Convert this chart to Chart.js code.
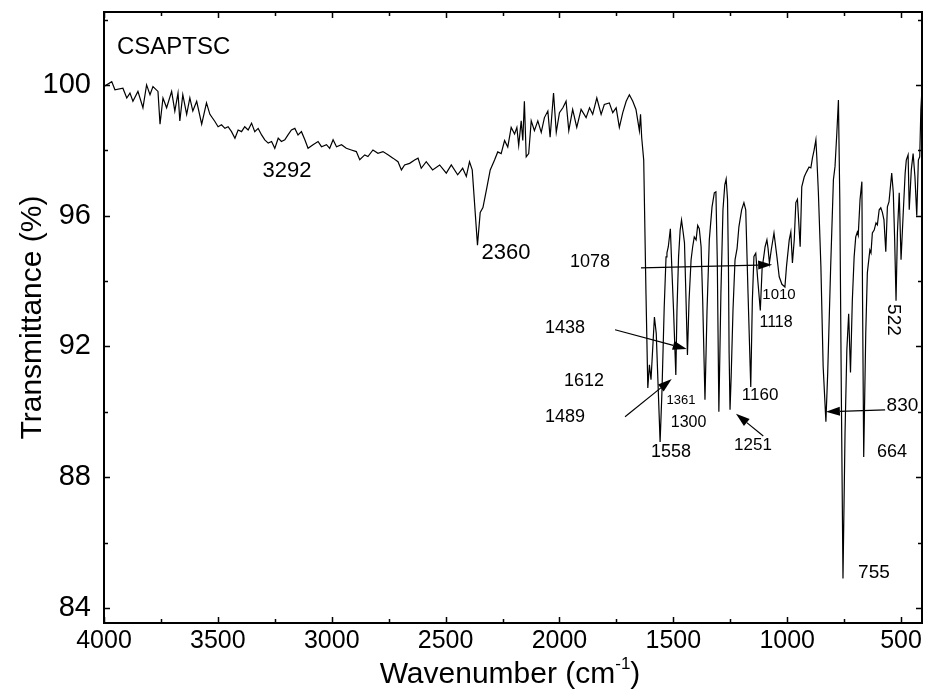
<!DOCTYPE html>
<html>
<head>
<meta charset="utf-8">
<title>CSAPTSC FT-IR</title>
<script src="https://cdn.jsdelivr.net/npm/chart.js@4.4.0/dist/chart.umd.min.js"></script>
<style>
  html, body { margin: 0; padding: 0; background: #fff; }
  #wrap { width: 925px; height: 691px; }
</style>
</head>
<body>
<div id="wrap"><canvas id="irChart" width="925" height="691"></canvas></div>
<script>
// --- Spectrum data (wavenumber in cm-1, transmittance in %) ---
const wavenumbers = [
    4000, 3966, 3952, 3917, 3900, 3886, 3873, 3851, 3829, 3813, 3798, 3785, 3763, 3754, 3741,
    3725, 3703, 3689, 3675, 3667, 3654, 3637, 3623, 3610, 3593, 3571, 3550, 3535, 3513,
    3499, 3484, 3469, 3455, 3440, 3425, 3411, 3396, 3382, 3367, 3352, 3338, 3323, 3308, 3294,
    3279, 3264, 3250, 3235, 3221, 3206, 3192, 3177, 3162, 3148, 3133, 3118, 3104, 3082, 3060,
    3045, 3023, 3009, 2994, 2979, 2957, 2936, 2914, 2892, 2877, 2855, 2841, 2819, 2797, 2775,
    2753, 2731, 2709, 2694, 2680, 2658, 2636, 2621,
    2607, 2585, 2557, 2526, 2497, 2475, 2447, 2425, 2409, 2395, 2383, 2360, 2348, 2336, 2319,
    2304, 2285, 2271, 2256, 2241, 2227, 2212, 2197, 2187, 2179, 2168, 2161, 2154, 2146, 2135,
    2124, 2110, 2095, 2080, 2066, 2051, 2041, 2026, 2014, 2000, 1985, 1971, 1959, 1942, 1924,
    1905, 1883, 1868, 1854, 1836, 1817, 1803, 1781, 1766, 1751, 1737, 1722, 1707, 1693, 1678,
    1664, 1649, 1644, 1639, 1630,
    1620, 1612, 1605, 1598, 1583, 1575, 1558, 1550, 1540, 1532, 1528, 1522, 1513, 1506, 1499,
    1489, 1484, 1477, 1470, 1464, 1457, 1451, 1445, 1438, 1431, 1422, 1415, 1408, 1400, 1393,
    1386, 1378, 1371, 1361, 1352, 1342, 1330, 1320, 1313, 1307, 1300, 1291, 1282, 1274, 1268,
    1262, 1258, 1255, 1251, 1246, 1238, 1229, 1220, 1212, 1200, 1190, 1182, 1172, 1160, 1153,
    1146, 1138, 1130, 1118, 1110, 1103, 1097, 1089, 1084, 1078, 1070, 1058, 1045, 1035, 1023,
    1010, 1003, 991, 984, 977, 969, 962, 955, 943, 936, 925, 915, 904, 896, 889,
    882, 874, 870, 863, 852, 842, 830, 822, 809, 797, 790, 782, 775, 769, 762,
    755, 746, 738, 730, 722, 714, 706, 699, 692, 688, 680, 672, 669, 664, 655,
    648, 637, 632, 626, 618, 610, 604, 596, 589, 582, 575, 567, 560, 553, 541,
    534, 528, 522, 516, 508, 500, 491, 482, 477, 469, 464, 455, 447, 439, 431,
    424, 418, 413, 408
];

const transmittance = [
    99.95, 100.1, 99.85, 99.9, 99.6, 99.75, 99.5, 99.8, 99.3, 100.0, 99.7, 99.95, 99.8, 98.8, 99.6,
    99.3, 99.8, 99.2, 99.75, 98.9, 99.7, 99.1, 99.6, 99.2, 99.5, 98.8, 99.45, 99.1, 98.88,
    98.72, 98.78, 98.67, 98.72, 98.57, 98.37, 98.62, 98.57, 98.72, 98.62, 98.83, 98.57, 98.67, 98.47, 98.32,
    98.22, 98.27, 98.06, 98.37, 98.27, 98.32, 98.47, 98.62, 98.67, 98.47, 98.57, 98.32, 98.06, 98.17, 98.27,
    98.11, 98.17, 98.06, 98.32, 98.11, 98.17, 98.06, 98.01, 97.96, 97.71, 97.86, 97.81, 98.01, 97.91, 97.96,
    97.86, 97.76, 97.65, 97.4, 97.55, 97.6, 97.7, 97.76,
    97.45, 97.65, 97.4, 97.55, 97.3, 97.55, 97.25, 97.45, 97.2, 97.65, 97.4, 95.1, 96.1, 96.25, 96.85,
    97.4, 97.7, 97.95, 97.9, 98.3, 98.1, 98.7, 98.5, 98.7, 98.15, 98.9, 98.3, 99.5, 97.8, 97.9,
    98.9, 98.6, 98.9, 98.55, 99.0, 99.2, 98.4, 99.75, 98.55, 99.15, 99.3, 99.5, 98.6, 99.25, 98.7,
    99.25, 99.0, 99.3, 99.1, 99.6, 99.1, 99.4, 99.45, 99.15, 99.3, 98.7, 99.15, 99.5, 99.7, 99.5,
    99.25, 98.6, 99.1, 98.4, 97.7,
    93.6, 90.73, 91.44, 90.98, 92.9, 92.4, 89.08, 90.6, 93.2, 94.74, 94.86, 95.05, 95.6, 94.3, 93.1,
    91.13, 93.1, 94.74, 95.56, 95.87, 95.5, 95.17, 93.64, 91.74, 93.4, 94.65, 95.05, 95.35, 95.26, 95.7,
    95.6, 95.05, 93.4, 90.37, 93.1, 95.26, 96.27, 96.7, 96.73, 94.65, 90.0, 93.64, 96.18, 96.94, 97.12,
    96.5, 94.5, 91.8, 90.06, 91.07, 93.1, 94.65, 95.0, 95.66, 96.18, 96.4, 96.18, 93.64, 90.76, 93.4,
    94.75, 94.85, 94.1, 93.1, 94.4, 94.74, 95.05, 95.26, 95.0, 94.55, 94.95, 95.47, 94.74, 94.13, 93.9,
    93.82, 94.45, 95.26, 95.5, 94.55, 95.26, 96.4, 96.5, 95.05, 96.88, 97.19, 97.34, 97.49, 97.46, 97.77,
    98.0, 98.32, 97.8, 96.7, 94.45, 91.38, 89.7, 91.2, 94.45, 97.1, 97.5, 98.53, 99.54, 96.5, 90.37,
    84.9, 89.35, 91.9, 93.0, 91.2, 93.4, 94.74, 95.35, 95.5, 95.4, 96.5, 97.04, 93.4, 88.62, 92.4,
    94.25, 94.95, 94.86, 95.47, 95.56, 95.78, 95.72, 96.18, 96.24, 96.1, 95.87, 94.9, 96.27, 96.42, 97.3,
    96.7, 95.26, 93.4, 95.47, 96.7, 94.65, 96.0, 97.3, 97.7, 97.86, 96.18, 97.4, 97.9, 97.19, 96.0,
    97.7, 97.8, 99.24, 99.9
];

const xTickValues = [4000, 3500, 3000, 2500, 2000, 1500, 1000, 500];
const yTickValues = [84, 88, 92, 96, 100];

const FONT = '"Liberation Sans", Arial, Helvetica, sans-serif';

// peak labels: text, anchor (wavenumber, %T), font size
const peakTags = [
    { text: '3292', at: [3196, 97.37], size: 22 },
    { text: '2360', at: [2235, 94.86], size: 22 },
    { text: '1078', at: [1866, 94.59], size: 18 },
    { text: '1438', at: [1976, 92.57], size: 18 },
    { text: '1612', at: [1892, 90.95], size: 18 },
    { text: '1489', at: [1976, 89.84], size: 18 },
    { text: '1361', at: [1466, 90.36], size: 13 },
    { text: '1300', at: [1433, 89.66], size: 16 },
    { text: '1558', at: [1510, 88.77], size: 18 },
    { text: '1251', at: [1150, 88.99], size: 17 },
    { text: '1160', at: [1119, 90.49], size: 17 },
    { text: '1118', at: [1049, 92.72], size: 16 },
    { text: '1010', at: [1036, 93.58], size: 15 },
    { text: '522',  at: [535, 92.81],  size: 19, rotate: true },
    { text: '830',  at: [494, 90.18],  size: 19 },
    { text: '664',  at: [540, 88.77],  size: 18 },
    { text: '755',  at: [619, 85.07],  size: 19 }
];

// arrows pointing at peaks: from -> tip, in (wavenumber, %T)
const peakArrows = [
    { from: [1642, 94.40], to: [1066, 94.50] },
    { from: [1756, 92.51], to: [1441, 91.92] },
    { from: [1712, 89.85], to: [1507, 91.00] },
    { from: [1105, 89.26], to: [1225, 89.94] },
    { from: [570, 90.06],  to: [830, 90.00] }
];

const spectrum = wavenumbers.map((wn, i) => ({ x: wn, y: transmittance[i] }));

// --- frame, inner tick marks and axis titles ---
const framePlugin = {
    id: 'frame',
    afterDraw(chart) {
        const { ctx, chartArea: a, scales } = chart;
        ctx.save();
        ctx.strokeStyle = '#000';
        ctx.lineWidth = 1.5;
        ctx.beginPath();
        for (let v = 4000; v >= 500; v -= 250) {
            const px = Math.round(scales.x.getPixelForValue(v)) + 0.5;
            const len = v % 500 === 0 ? 6 : 4;
            ctx.moveTo(px, a.bottom); ctx.lineTo(px, a.bottom - len);
            ctx.moveTo(px, a.top); ctx.lineTo(px, a.top + len);
        }
        for (let v = 84; v <= 102; v += 2) {
            const py = Math.round(scales.y.getPixelForValue(v)) + 0.5;
            const len = v % 4 === 0 ? 6 : 4;
            ctx.moveTo(a.left, py); ctx.lineTo(a.left + len, py);
            ctx.moveTo(a.right, py); ctx.lineTo(a.right - len, py);
        }
        ctx.stroke();

        ctx.lineWidth = 2;
        ctx.strokeRect(a.left, a.top, a.right - a.left, a.bottom - a.top);

        // axis titles
        ctx.fillStyle = '#000';
        ctx.textBaseline = 'middle';
        ctx.textAlign = 'center';
        ctx.font = '30px ' + FONT;
        ctx.save();
        ctx.translate(a.left - 71, (a.top + a.bottom) / 2);
        ctx.rotate(-Math.PI / 2);
        ctx.fillText('Transmittance (%)', 0, 0);
        ctx.restore();

        const main = 'Wavenumber (cm';
        const sup = '-1';
        const tail = ')';
        ctx.textAlign = 'left';
        ctx.textBaseline = 'alphabetic';
        ctx.font = '30px ' + FONT;
        const w1 = ctx.measureText(main).width;
        const w3 = ctx.measureText(tail).width;
        ctx.font = '17px ' + FONT;
        const w2 = ctx.measureText(sup).width;
        let x = (a.left + a.right) / 2 - (w1 + w2 + w3) / 2 - 3;
        const base = 683;
        ctx.font = '30px ' + FONT;
        ctx.fillText(main, x, base);
        x += w1;
        ctx.font = '17px ' + FONT;
        ctx.fillText(sup, x, base - 14);
        x += w2;
        ctx.font = '30px ' + FONT;
        ctx.fillText(tail, x, base);
        ctx.restore();
    }
};

// --- sample name, peak labels and arrows ---
const tagPlugin = {
    id: 'tags',
    afterDatasetsDraw(chart) {
        const { ctx, scales } = chart;
        const px = v => scales.x.getPixelForValue(v);
        const py = v => scales.y.getPixelForValue(v);
        ctx.save();
        ctx.fillStyle = '#000';
        ctx.strokeStyle = '#000';

        ctx.font = '24px ' + FONT;
        ctx.textAlign = 'left';
        ctx.textBaseline = 'middle';
        ctx.fillText('CSAPTSC', px(3943), py(101.16));

        ctx.textAlign = 'center';
        peakTags.forEach(tag => {
            ctx.font = tag.size + 'px ' + FONT;
            const x = px(tag.at[0]);
            const y = py(tag.at[1]);
            if (tag.rotate) {
                ctx.save();
                ctx.translate(x, y);
                ctx.rotate(Math.PI / 2);
                ctx.fillText(tag.text, 0, 0);
                ctx.restore();
            } else {
                ctx.fillText(tag.text, x, y);
            }
        });

        ctx.lineWidth = 1.2;
        peakArrows.forEach(arr => {
            const x0 = px(arr.from[0]), y0 = py(arr.from[1]);
            const x1 = px(arr.to[0]), y1 = py(arr.to[1]);
            const ang = Math.atan2(y1 - y0, x1 - x0);
            const headLen = 14, headHalf = 4.5;
            const bx = x1 - headLen * Math.cos(ang);
            const by = y1 - headLen * Math.sin(ang);
            ctx.beginPath();
            ctx.moveTo(x0, y0);
            ctx.lineTo(bx, by);
            ctx.stroke();
            ctx.beginPath();
            ctx.moveTo(x1, y1);
            ctx.lineTo(bx + headHalf * Math.sin(ang), by - headHalf * Math.cos(ang));
            ctx.lineTo(bx - headHalf * Math.sin(ang), by + headHalf * Math.cos(ang));
            ctx.closePath();
            ctx.fill();
        });
        ctx.restore();
    }
};

const irCtx = document.getElementById('irChart');
new Chart(irCtx, {
    type: 'line',
    data: {
        datasets: [{
            data: spectrum,
            borderColor: '#000',
            borderWidth: 1.2,
            pointRadius: 0,
            tension: 0,
            fill: false
        }]
    },
    options: {
        responsive: false,
        animation: false,
        layout: { padding: { top: 12, right: 3, left: 0, bottom: 0 } },
        plugins: {
            legend: { display: false },
            tooltip: { enabled: false }
        },
        scales: {
            x: {
                type: 'linear',
                reverse: true,
                min: 408,
                max: 4000,
                afterBuildTicks: scale => { scale.ticks = xTickValues.map(v => ({ value: v })); },
                afterFit: scale => {
                    scale.height = 68;
                    scale.paddingLeft = 0;
                    scale.paddingRight = 0;
                },
                grid: { display: false, drawTicks: false },
                border: { display: false },
                ticks: {
                    color: '#000',
                    font: { family: FONT, size: 25 },
                    padding: 3,
                    maxRotation: 0,
                    autoSkip: false,
                    callback: value => String(value)
                }
            },
            y: {
                min: 83.54,
                max: 102.23,
                afterBuildTicks: scale => { scale.ticks = yTickValues.map(v => ({ value: v })); },
                afterFit: scale => {
                    scale.width = 104;
                    scale.paddingTop = 0;
                    scale.paddingBottom = 0;
                },
                grid: { display: false, drawTicks: false },
                border: { display: false },
                ticks: {
                    color: '#000',
                    font: { family: FONT, size: 29 },
                    padding: 13,
                    callback: value => String(value)
                }
            }
        }
    },
    plugins: [framePlugin, tagPlugin]
});
</script>
</body>
</html>
